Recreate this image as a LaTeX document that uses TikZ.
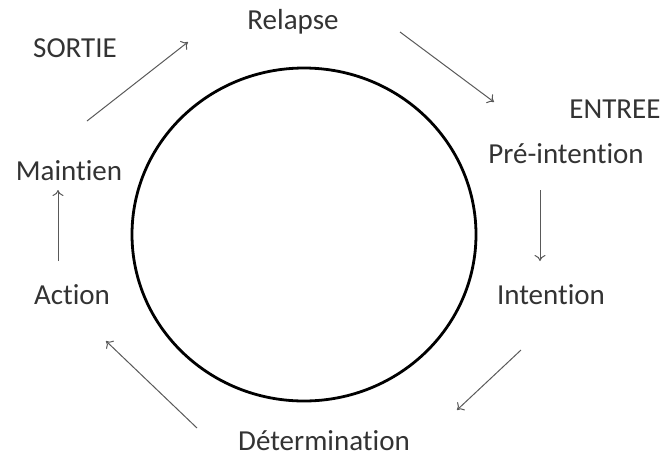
\documentclass[tikz,border=0pt]{standalone}
\usepackage{fontspec}
\setmainfont[Ligatures={NoCommon,TeX}]{Carlito}
\usetikzlibrary{arrows.meta}
\begin{document}
\begin{tikzpicture}[x=1pt,y=-1pt,
  lbl/.style={anchor=base,inner sep=0pt,text=black!80,font=\fontsize{29}{30}\selectfont},
  flow/.style={draw=black!65,line width=1pt,-{To[length=6pt,width=11pt]}}]
\useasboundingbox (0,0) rectangle (664,456);
\draw[line width=2.8pt] (304,234.5) ellipse [x radius=172,y radius=166.5];
\node[lbl] (sortie) at (75,57) {SORTIE};
\node[lbl] (relapse) at (293,29) {Relapse};
\node[lbl] (entree) at (615,118) {ENTREE};
\node[lbl] (pre) at (566,163) {Pré-intention};
\node[lbl] (maintien) at (69,180) {Maintien};
\node[lbl] (action) at (72,304) {Action};
\node[lbl] (intention) at (551,304) {Intention};
\node[lbl] (determ) at (324,450) {Détermination};
\coordinate (s1) at (87,121); \coordinate (s2) at (188,42);
\coordinate (r1) at (400,32); \coordinate (r2) at (494,102);
\coordinate (p1) at (540,190); \coordinate (p2) at (540,261);
\coordinate (i1) at (521,350); \coordinate (i2) at (457,410);
\coordinate (d1) at (197,428); \coordinate (d2) at (106,341);
\coordinate (a1) at (58,261); \coordinate (a2) at (58,190);
\draw[flow] (s1) -- (s2);
\draw[flow] (r1) -- (r2);
\draw[flow] (p1) -- (p2);
\draw[flow] (i1) -- (i2);
\draw[flow] (d1) -- (d2);
\draw[flow] (a1) -- (a2);
\end{tikzpicture}
\end{document}
